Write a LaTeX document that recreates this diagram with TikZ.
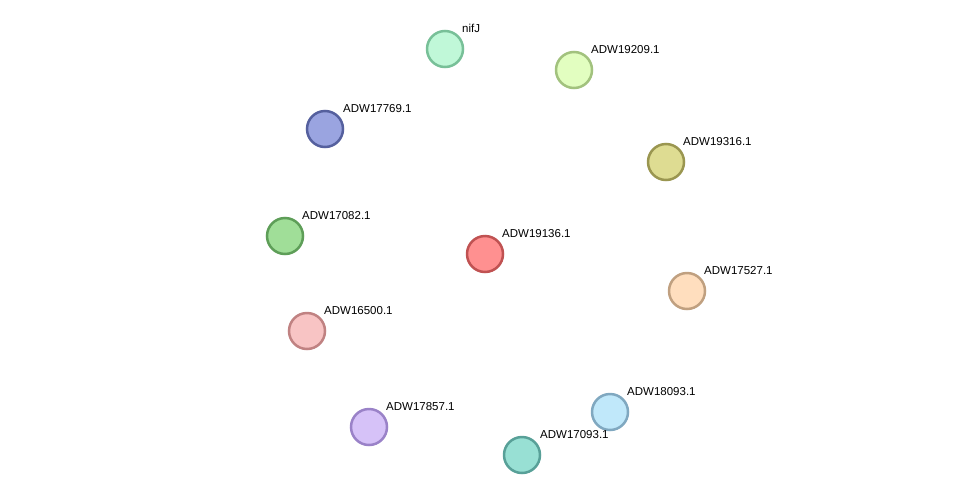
\documentclass[tikz,border=0pt]{standalone}
\usepackage{fontspec}
\setmainfont{Liberation Sans}
\usetikzlibrary{calc}
\pgfdeclarelayer{edges}
\pgfsetlayers{edges,main}
\definecolor{eg}{HTML}{33C433}
\definecolor{ey}{HTML}{C6D62E}
\definecolor{eb}{HTML}{2A2AF0}
\definecolor{ek}{HTML}{444444}
\definecolor{em}{HTML}{D840D8}
\definecolor{er}{HTML}{F03030}
\newcommand\sedge[4]{\foreach \ecol [count=\ei] in {#4}{\pgfmathsetmacro\eoff{(\ei-1-(#3-1)/2)*2.3}
 \draw[color=\ecol,line width=1.3pt] ($(#1)!\eoff pt!90:(#2)$) -- ($(#2)!\eoff pt!-90:(#1)$);}}
\tikzset{prot/.style 2 args={circle,minimum size=36pt,inner sep=0pt,line width=2.5pt,
  /utils/exec={\definecolor{tmpf}{HTML}{#1}\definecolor{tmpd}{HTML}{#2}},fill=tmpf,draw=tmpd},
 lab/.style={font=\fontsize{11.5}{12}\selectfont,anchor=south west,inner sep=1pt}}
\begin{document}
\begin{tikzpicture}[x=1pt,y=-1pt]
\useasboundingbox[fill=white] (0,0) rectangle (976,501);
\node[prot={C0F8D8}{78C098}] (nif) at (445,49) {};
\node[prot={E2FEC0}{A2C27E}] (p209) at (574,70) {};
\node[prot={9AA4E0}{55609E}] (p769) at (325,129) {};
\node[prot={DEDC92}{9A9650}] (p316) at (666,162) {};
\node[prot={A0DE98}{5E9E58}] (p082) at (285,236) {};
\node[prot={FF9090}{C05252}] (p136) at (485,254) {};
\node[prot={FFDEBE}{C0A080}] (p527) at (687,291) {};
\node[prot={F8C4C4}{C08282}] (p500) at (307,331) {};
\node[prot={C0E8FA}{80A8C0}] (p093) at (610,412) {};
\node[prot={D6C2F8}{9A82C8}] (p857) at (369,427) {};
\node[prot={98E0D4}{58A098}] (p17093) at (522,455) {};
\begin{pgfonlayer}{edges}
\sedge{p136}{nif}{3}{em,ek,eg}
\sedge{p136}{p209}{3}{eg,ek,ey}
\sedge{p136}{p316}{1}{er}
\sedge{p136}{p769}{3}{ey,eb,eg}
\sedge{p136}{p082}{3}{ey,eb,eg}
\sedge{p769}{p082}{3}{ey,eb,eg}
\sedge{p082}{p500}{3}{ey,ek,eg}
\sedge{p136}{p500}{3}{ey,ek,eg}
\sedge{p500}{p857}{2}{ey,eg}
\sedge{p136}{p857}{3}{ek,er,eg}
\sedge{p136}{p527}{4}{eg,er,ek,ey}
\sedge{p136}{p093}{4}{eg,eb,ek,em}
\sedge{p136}{p17093}{4}{ey,ek,eb,eg}
\sedge{p093}{p17093}{2}{eb,eg}
\end{pgfonlayer}
\node[lab] at (461,34) {nifJ};
\node[lab] at (590,55) {ADW19209.1};
\node[lab] at (342,114) {ADW17769.1};
\node[lab] at (682,147) {ADW19316.1};
\node[lab] at (301,221) {ADW17082.1};
\node[lab] at (501,239) {ADW19136.1};
\node[lab] at (703,276) {ADW17527.1};
\node[lab] at (323,316) {ADW16500.1};
\node[lab] at (626,397) {ADW18093.1};
\node[lab] at (385,412) {ADW17857.1};
\node[lab] at (539,440) {ADW17093.1};
\end{tikzpicture}
\end{document}
